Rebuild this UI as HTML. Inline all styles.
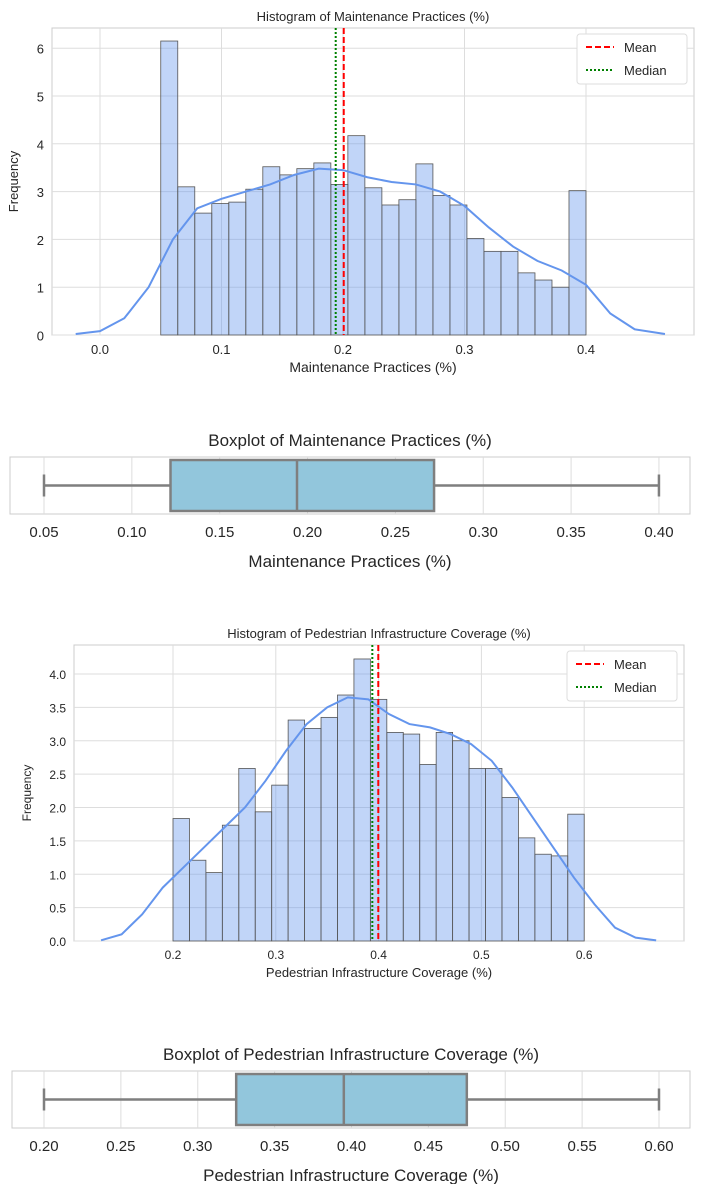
<!DOCTYPE html>
<html><head><meta charset="utf-8"><style>
body{margin:0;background:#fff;font-family:"Liberation Sans","DejaVu Sans",sans-serif}
svg text{font-family:"Liberation Sans","DejaVu Sans",sans-serif;fill:#262626}
</style></head><body>
<svg id="s" width="703" height="1184" xmlns="http://www.w3.org/2000/svg"></svg>
<script>
const h1Counts=[6.15,3.1,2.55,2.75,2.78,3.05,3.52,3.35,3.48,3.6,3.15,4.17,3.08,2.72,2.83,3.58,2.92,2.72,2.02,1.75,1.75,1.3,1.15,1.0,3.02];
const h1KdeX=[-0.02,0,0.02,0.04,0.06,0.08,0.10,0.12,0.14,0.16,0.18,0.20,0.22,0.24,0.26,0.28,0.30,0.32,0.34,0.36,0.38,0.40,0.42,0.44,0.465];
const h1KdeY=[0.02,0.08,0.35,1.0,2.0,2.65,2.85,3.0,3.15,3.35,3.48,3.45,3.3,3.2,3.15,3.0,2.7,2.25,1.85,1.55,1.35,1.05,0.45,0.12,0.02];
const h1XTicks=[0,0.1,0.2,0.3,0.4];
const h1YTicks=[0,1,2,3,4,5,6];
const h1Stats=[0.2006,0.194];
const b1Stats=[0.05,0.122,0.194,0.272,0.40];
const b1Ticks=[0.05,0.10,0.15,0.20,0.25,0.30,0.35,0.40];
const h2Counts=[1.835,1.21,1.025,1.735,2.585,1.935,2.335,3.31,3.185,3.35,3.685,4.225,3.62,3.125,3.10,2.645,3.125,3.0,2.585,2.585,2.15,1.545,1.30,1.275,1.90];
const h2KdeX=[0.13,0.15,0.17,0.19,0.21,0.23,0.25,0.27,0.29,0.31,0.33,0.35,0.37,0.39,0.41,0.43,0.45,0.47,0.49,0.51,0.53,0.55,0.57,0.59,0.61,0.63,0.65,0.67];
const h2KdeY=[0.01,0.1,0.4,0.8,1.1,1.4,1.7,2.0,2.4,2.85,3.25,3.5,3.65,3.62,3.4,3.25,3.2,3.1,2.95,2.7,2.3,1.85,1.4,0.95,0.55,0.2,0.05,0.01];
const h2XTicks=[0.2,0.3,0.4,0.5,0.6];
const h2YTicks=[0,0.5,1.0,1.5,2.0,2.5,3.0,3.5,4.0];
const h2Stats=[0.3997,0.3939];
const b2Stats=[0.20,0.325,0.395,0.475,0.60];
const b2Ticks=[0.20,0.25,0.30,0.35,0.40,0.45,0.50,0.55,0.60];

const S=document.getElementById('s');const NS='http://www.w3.org/2000/svg';
function el(t,a,txt){const e=document.createElementNS(NS,t);for(const k in a)e.setAttribute(k,a[k]);if(txt!==undefined)e.textContent=txt;S.appendChild(e);return e;}

function hist(o){
 const sx=v=>o.x0+(v-o.v0)*o.kx, sy=v=>o.y0-v*o.ky;
 let f=el('rect',{x:o.L,y:o.T,width:o.R-o.L,height:o.B-o.T,fill:'#fff',stroke:'#ccc'});
 
 o.xt.forEach(v=>{let g=el('line',{x1:sx(v),x2:sx(v),y1:o.T,y2:o.B,stroke:'#ddd'});
  let t=el('text',{x:sx(v),y:o.B+o.fs+6,'font-size':o.fs,'text-anchor':'middle'},v.toFixed(1));});
 o.yt.forEach(v=>{let g=el('line',{x1:o.L,x2:o.R,y1:sy(v),y2:sy(v),stroke:'#ddd'});
  let t=el('text',{x:o.L-8,y:sy(v)+o.fs/2-1,'font-size':o.fs,'text-anchor':'end'},o.yd?v.toFixed(1):String(v));});
 const bw=(o.b1-o.b0)/o.c.length;
 o.c.forEach((c,i)=>{let r=el('rect',{x:sx(o.b0+i*bw),y:sy(c),width:bw*o.kx,height:c*o.ky,fill:'rgba(100,149,237,0.4)',stroke:'#555','stroke-width':0.8});});
 let p=el('polyline',{points:o.kx_.map((x,i)=>sx(x)+','+sy(o.ky_[i])).join(' '),fill:'none',stroke:'#6495ed','stroke-width':2});
 let m=el('line',{x1:sx(o.st[0]),x2:sx(o.st[0]),y1:o.T,y2:o.B,stroke:'red','stroke-width':2,'stroke-dasharray':'6,3'});
 let md=el('line',{x1:sx(o.st[1]),x2:sx(o.st[1]),y1:o.T,y2:o.B,stroke:'green','stroke-width':2,'stroke-dasharray':'2,2'});
 let lg=el('rect',{x:o.R-117,y:o.T+6,width:110,height:50,rx:3,fill:'#fff',stroke:'#ddd'});
 el('line',{x1:o.R-108,x2:o.R-80,y1:o.T+19,y2:o.T+19,stroke:'red','stroke-width':2,'stroke-dasharray':'6,3'});
 let a=el('text',{x:o.R-70,y:o.T+24,'font-size':13},'Mean');
 el('line',{x1:o.R-108,x2:o.R-80,y1:o.T+42,y2:o.T+42,stroke:'green','stroke-width':2,'stroke-dasharray':'2,2'});
 let b=el('text',{x:o.R-70,y:o.T+47,'font-size':13},'Median');
 let t=el('text',{x:(o.L+o.R)/2,y:o.T-7,'font-size':13,'text-anchor':'middle'},o.title);
 let xl=el('text',{x:(o.L+o.R)/2,y:o.B+o.fs+24,'font-size':o.fs+1,'text-anchor':'middle'},o.xl);
 let yl=el('text',{x:0,y:0,'font-size':o.fs,'text-anchor':'middle',transform:`translate(${o.ylx},${(o.T+o.B)/2}) rotate(-90)`},'Frequency');
}
function box(o){
 const sx=v=>o.x0+(v-o.v0)*o.kx, cy=(o.T+o.B)/2;
 let f=el('rect',{x:o.L,y:o.T,width:o.R-o.L,height:o.B-o.T,fill:'#fff',stroke:'#ccc'});
 o.ticks.forEach(v=>{let g=el('line',{x1:sx(v),x2:sx(v),y1:o.T,y2:o.B,stroke:'#ddd'});
  let t=el('text',{x:sx(v),y:o.B+23,'font-size':15,'text-anchor':'middle'},v.toFixed(2));});
 const s=o.st,st={stroke:'#7f7f7f','stroke-width':2.5};
 el('line',Object.assign({x1:sx(s[0]),x2:sx(s[1]),y1:cy,y2:cy},st));
 el('line',Object.assign({x1:sx(s[3]),x2:sx(s[4]),y1:cy,y2:cy},st));
 el('line',Object.assign({x1:sx(s[0]),x2:sx(s[0]),y1:cy-11,y2:cy+11},st));
 el('line',Object.assign({x1:sx(s[4]),x2:sx(s[4]),y1:cy-11,y2:cy+11},st));
 let r=el('rect',Object.assign({x:sx(s[1]),y:o.T+3,width:sx(s[3])-sx(s[1]),height:o.B-o.T-6,fill:'#92c6dc'},st));
 let m=el('line',Object.assign({x1:sx(s[2]),x2:sx(s[2]),y1:o.T+3,y2:o.B-3},st));
 let t=el('text',{x:(o.L+o.R)/2,y:o.T-11,'font-size':17,'text-anchor':'middle'},o.title);
 let xl=el('text',{x:(o.L+o.R)/2,y:o.B+53,'font-size':17,'text-anchor':'middle'},o.xl);
}
hist({id:'hist-maintenance',L:52,R:694,T:28,B:335,x0:100,v0:0,kx:1215,y0:335,ky:47.8,xt:h1XTicks,yt:h1YTicks,yd:false,fs:13,c:h1Counts,b0:0.05,b1:0.40,kx_:h1KdeX,ky_:h1KdeY,st:h1Stats,title:'Histogram of Maintenance Practices (%)',xl:'Maintenance Practices (%)',ylx:18});
box({id:'box-maintenance',L:10,R:690,T:457,B:514,x0:44,v0:0.05,kx:1757,ticks:b1Ticks,st:b1Stats,title:'Boxplot of Maintenance Practices (%)',xl:'Maintenance Practices (%)'});
hist({id:'hist-pedestrian',L:74,R:684,T:645,B:941,x0:173,v0:0.2,kx:1028,y0:941,ky:66.75,xt:h2XTicks,yt:h2YTicks,yd:true,fs:12,c:h2Counts,b0:0.2,b1:0.6,kx_:h2KdeX,ky_:h2KdeY,st:h2Stats,title:'Histogram of Pedestrian Infrastructure Coverage (%)',xl:'Pedestrian Infrastructure Coverage (%)',ylx:31});
box({id:'box-pedestrian',L:12,R:690,T:1071,B:1128,x0:44,v0:0.2,kx:1537.5,ticks:b2Ticks,st:b2Stats,title:'Boxplot of Pedestrian Infrastructure Coverage (%)',xl:'Pedestrian Infrastructure Coverage (%)'});
</script>
</body></html>
